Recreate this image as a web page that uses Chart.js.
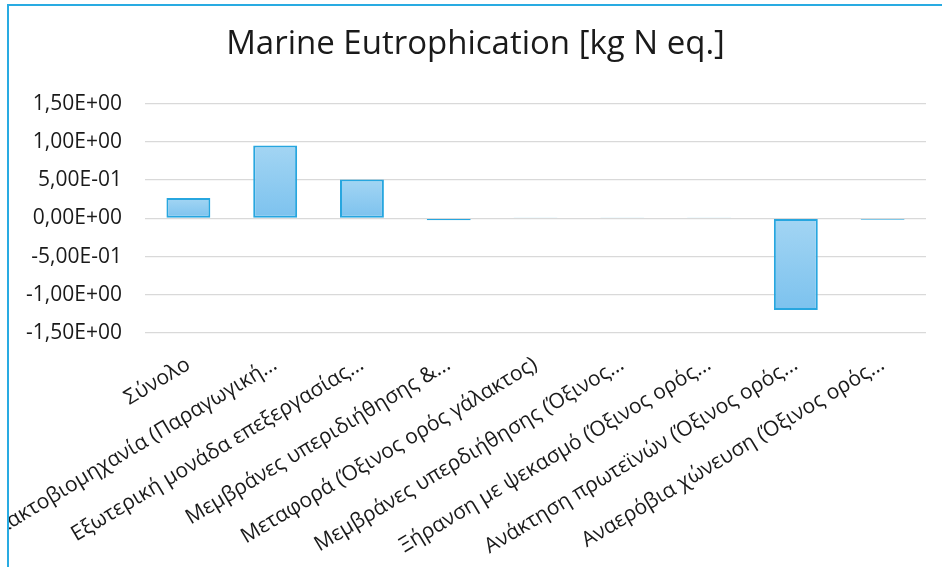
<!DOCTYPE html>
<html>
<head>
<meta charset="utf-8">
<script src="https://cdn.jsdelivr.net/npm/chart.js@4.4.1/dist/chart.umd.min.js"></script>
<style>
  html, body { margin: 0; padding: 0; background: #fff; }
  body { width: 942px; height: 567px; overflow: hidden; position: relative; }
  #frame {
    position: absolute; left: 7px; top: 4px; right: 0; bottom: 0;
    border-left: 2px solid #29abe2; border-top: 2px solid #29abe2;
    overflow: hidden;
  }
  #chart { display: block; }
</style>
</head>
<body>
<div id="frame"><canvas id="chart" width="933" height="561"></canvas></div>
<script>
// Marine eutrophication per process step
const categories = [
  'Σύνολο',
  'Γαλακτοβιομηχανία (Παραγωγική…',
  'Εξωτερική μονάδα επεξεργασίας…',
  'Μεμβράνες υπεριδιήθησης &…',
  'Μεταφορά (Όξινος ορός γάλακτος)',
  'Μεμβράνες υπερδιήθησης (Όξινος…',
  'Ξήρανση με ψεκασμό (Όξινος ορός…',
  'Ανάκτηση πρωτεϊνών (Όξινος ορός…',
  'Αναερόβια χώνευση (Όξινος ορός…'
];
const values = [0.265, 0.952, 0.509, -0.025, 0.004, 0.003, 0.004, -1.2, -0.018];
const yTicks = [-1.5, -1.0, -0.5, 0, 0.5, 1.0, 1.5];

const FONT = '"Open Sans", sans-serif';
const TEXT = '#1a1a1a';

// 1.5 -> "1,50E+00"
function sciLabel(v) {
  const [m, e] = Number(v).toExponential(2).split('e');
  const n = parseInt(e, 10);
  const exp = (n < 0 ? '-' : '+') + String(Math.abs(n)).padStart(2, '0');
  return m.replace('.', ',') + 'E' + exp;
}

// per-bar vertical gradient, light at top, a bit deeper at the bottom
function barFill(ctx) {
  const chart = ctx.chart;
  if (!chart.chartArea) return '#93cdf0';
  const y = chart.scales.y;
  const a = y.getPixelForValue(0);
  const b = y.getPixelForValue(ctx.raw);
  const top = Math.min(a, b), bot = Math.max(a, b);
  if (bot - top < 2) return '#9fd3f2';
  const g = chart.ctx.createLinearGradient(0, top, 0, bot);
  g.addColorStop(0, '#a3d5f3');
  g.addColorStop(1, '#7cc2ee');
  return g;
}

new Chart(document.getElementById('chart'), {
  type: 'bar',
  data: {
    labels: categories,
    datasets: [{
      data: values,
      backgroundColor: barFill,
      borderColor: '#27a6df',
      borderWidth: 2,
      borderSkipped: false,
      barPercentage: 0.506,
      categoryPercentage: 1
    }]
  },
  options: {
    responsive: false,
    animation: false,
    layout: { padding: 0 },
    plugins: {
      legend: { display: false },
      tooltip: { enabled: false },
      title: {
        display: true,
        text: 'Marine Eutrophication [kg N eq.]',
        color: TEXT,
        font: { family: FONT, size: 33, weight: 'normal' },
        padding: { top: 19, bottom: 39 }
      }
    },
    scales: {
      x: {
        grid: { display: false, drawTicks: false },
        border: { display: false },
        ticks: {
          color: TEXT,
          font: { family: FONT, size: 21 },
          autoSkip: false,
          minRotation: 31,
          maxRotation: 31,
          padding: 19
        },
        afterFit: s => { s.height = 234; }
      },
      y: {
        min: -1.5,
        max: 1.5,
        afterBuildTicks: s => { s.ticks = yTicks.map(v => ({ value: v })); },
        grid: { color: '#d9d9d9', lineWidth: 1.3, drawTicks: false },
        border: { display: false },
        ticks: {
          color: TEXT,
          font: { family: FONT, size: 21 },
          padding: 23,
          callback: v => sciLabel(v)
        },
        afterFit: s => { s.width = 136; }
      },
      // empty strip on the right so the title stays centred on the canvas
      gap: {
        type: 'linear',
        position: 'right',
        display: true,
        grid: { display: false, drawTicks: false },
        border: { display: false },
        ticks: { display: false },
        afterFit: s => { s.width = 16; }
      }
    }
  }
});
</script>
</body>
</html>
